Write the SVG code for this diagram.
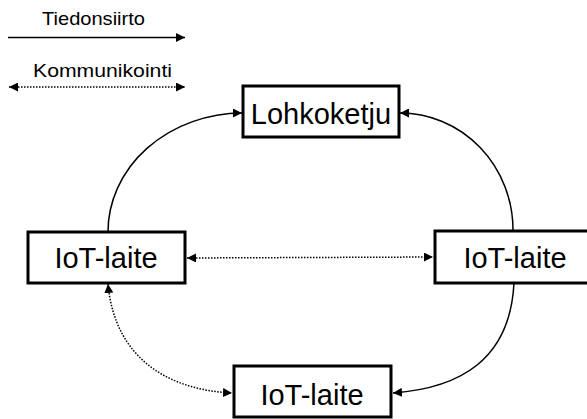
<svg xmlns="http://www.w3.org/2000/svg" width="587" height="419" viewBox="0 0 587 419">
<style>
.box{fill:#fff;stroke:#000;stroke-width:3}
.lbl{font-family:"Liberation Sans",Arial,sans-serif;font-size:29px;fill:#000;text-anchor:middle}
.leg{font-family:"Liberation Sans",Arial,sans-serif;font-size:19px;fill:#000;text-anchor:middle}
.solid{fill:none;stroke:#000;stroke-width:1.5}
.dot{fill:none;stroke:#000;stroke-width:1.5;stroke-dasharray:1.5 1.5}
</style>
<defs>
<marker id="ahb" viewBox="0 0 10 10" refX="10" refY="5" markerWidth="9" markerHeight="9" markerUnits="userSpaceOnUse" orient="auto-start-reverse">
<path d="M0,0 L10,5 L0,10 z" fill="#000"/>
</marker>
</defs>
<g id="legend">
<text class="leg" x="93.5" y="25" textLength="103" lengthAdjust="spacingAndGlyphs">Tiedonsiirto</text>
<line class="solid" x1="8" y1="37.5" x2="185" y2="37.5" marker-end="url(#ahb)"/>
<text class="leg" x="102.5" y="77" textLength="139" lengthAdjust="spacingAndGlyphs">Kommunikointi</text>
<line class="dot" x1="9" y1="87" x2="185" y2="87" marker-start="url(#ahb)" marker-end="url(#ahb)"/>
</g>
<g id="connectors">
<path class="solid" d="M108,232 A135,119 0 0 1 242,113" marker-end="url(#ahb)"/>
<path class="solid" d="M513,230 A113,117 0 0 0 400,113" marker-end="url(#ahb)"/>
<path class="solid" d="M514,283 C510,360 460,388 393,393" marker-end="url(#ahb)"/>
<path class="dot" d="M108,284 C115,360 170,390 232,393" marker-start="url(#ahb)" marker-end="url(#ahb)"/>
<line class="dot" x1="187" y1="258" x2="433" y2="257" marker-start="url(#ahb)" marker-end="url(#ahb)"/>
</g>
<g id="lohkoketju">
<rect class="box" x="243" y="86" width="156" height="51"/>
<text class="lbl" x="321" y="124">Lohkoketju</text>
</g>
<g id="iot-left">
<rect class="box" x="28" y="232" width="157" height="51"/>
<text class="lbl" x="106" y="268">IoT-laite</text>
</g>
<g id="iot-right">
<rect class="box" x="435" y="231" width="160" height="52"/>
<text class="lbl" x="515" y="268">IoT-laite</text>
</g>
<g id="iot-bottom">
<rect class="box" x="234" y="366" width="157" height="51"/>
<text class="lbl" x="312" y="405">IoT-laite</text>
</g>
</svg>
